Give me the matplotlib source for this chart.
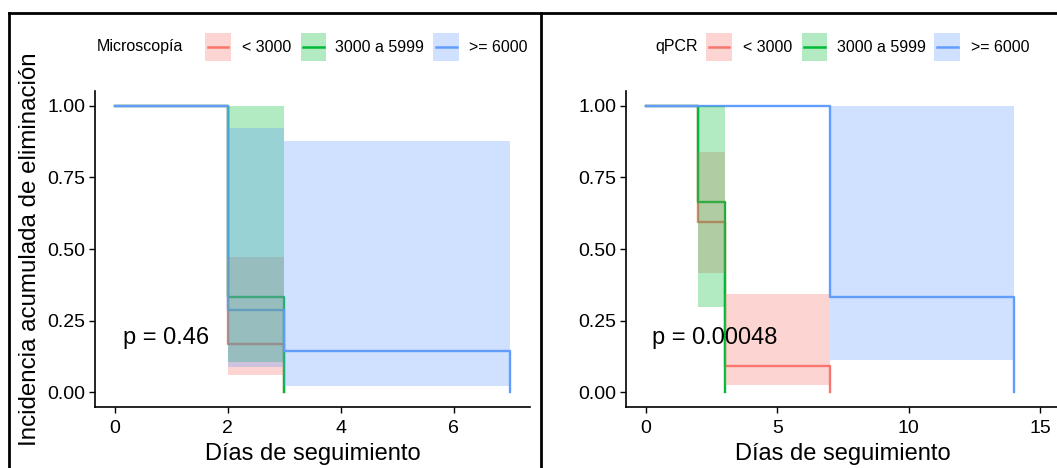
import matplotlib
matplotlib.use("Agg")
import matplotlib.pyplot as plt
from matplotlib import font_manager
from matplotlib.patches import Rectangle
from matplotlib.lines import Line2D

# datos (curvas escalonadas y bandas de confianza)
grupos = ["< 3000", "3000 a 5999", ">= 6000"]
colores = ["#F8766D", "#00BA38", "#619CFF"]

# Microscopia
mic_t_rojo = [0, 2, 3]
mic_s_rojo = [1.0, 0.168, 0.0]
mic_t_verde = [0, 2, 3]
mic_s_verde = [1.0, 0.333, 0.0]
mic_t_azul = [0, 2, 3, 7]
mic_s_azul = [1.0, 0.287, 0.145, 0.0]
mic_ci_t_rojo = [2, 3]
mic_ci_lo_rojo = [0.062]
mic_ci_hi_rojo = [0.471]
mic_ci_t_verde = [2, 3]
mic_ci_lo_verde = [0.107]
mic_ci_hi_verde = [1.0]
mic_ci_t_azul = [2, 3, 7]
mic_ci_lo_azul = [0.088, 0.022]
mic_ci_hi_azul = [0.922, 0.878]
mic_p = "p = 0.46"

# qPCR
pcr_t_rojo = [0, 2, 3, 7]
pcr_s_rojo = [1.0, 0.593, 0.092, 0.0]
pcr_t_verde = [0, 2, 3]
pcr_s_verde = [1.0, 0.665, 0.0]
pcr_t_azul = [0, 7, 14]
pcr_s_azul = [1.0, 0.333, 0.0]
pcr_ci_t_rojo = [2, 3, 7]
pcr_ci_lo_rojo = [0.417, 0.027]
pcr_ci_hi_rojo = [0.839, 0.343]
pcr_ci_t_verde = [2, 3]
pcr_ci_lo_verde = [0.298]
pcr_ci_hi_verde = [1.0]
pcr_ci_t_azul = [7, 14]
pcr_ci_lo_azul = [0.112]
pcr_ci_hi_azul = [1.0]
pcr_p = "p = 0.00048"

W, H = 1057, 468
nombres = {f.name for f in font_manager.fontManager.ttflist}
plt.rcParams['font.family'] = ['Liberation Sans', 'DejaVu Sans']
if 'Liberation Sans Narrow' in nombres:
    fam_ley, tam_ley = ['Liberation Sans Narrow', 'Liberation Sans'], 14
else:
    fam_ley, tam_ley = ['Liberation Sans', 'DejaVu Sans'], 11.5

fig = plt.figure(figsize=(W / 100, H / 100), dpi=100)
fig.patch.set_facecolor("white")

def px(x0, y0, x1, y1):  # caja en pixeles -> fraccion de figura
    return [x0 / W, 1 - y1 / H, (x1 - x0) / W, (y1 - y0) / H]

def panel(rect, xlim, xticks, curvas, bandas, ptxt, px_txt):
    ax = fig.add_axes(rect)
    for (t, s), c in zip(curvas, colores):
        ax.step(t, s, where="post", color=c, lw=1.7, zorder=2)
    for (t, lo, hi), c in zip(bandas, colores):
        ax.fill_between(t, lo + [lo[-1]], hi + [hi[-1]], step="post",
                        color=c, alpha=0.3, lw=0, zorder=3)
    ax.set_xlim(*xlim)
    ax.set_ylim(-0.05, 1.05)
    ax.set_xticks(xticks)
    ax.set_yticks([0, 0.25, 0.5, 0.75, 1.0])
    ax.set_yticklabels(["0.00", "0.25", "0.50", "0.75", "1.00"])
    for s in ["top", "right"]:
        ax.spines[s].set_visible(False)
    for s in ["left", "bottom"]:
        ax.spines[s].set_linewidth(1.2)
    ax.tick_params(labelsize=14, length=4, width=1, colors="black", pad=3)
    ax.tick_params(axis="x", pad=6)
    ax.set_xlabel("Días de seguimiento", fontsize=17, labelpad=4)
    ax.text(px_txt, 0.19, ptxt, fontsize=17, va="center", ha="left", zorder=5)
    return ax

ax1 = panel(px(95, 91.4, 530, 406.6), (-0.35, 7.35), [0, 2, 4, 6],
            [(mic_t_rojo, mic_s_rojo), (mic_t_verde, mic_s_verde), (mic_t_azul, mic_s_azul)],
            [(mic_ci_t_rojo, mic_ci_lo_rojo, mic_ci_hi_rojo),
             (mic_ci_t_verde, mic_ci_lo_verde, mic_ci_hi_verde),
             (mic_ci_t_azul, mic_ci_lo_azul, mic_ci_hi_azul)],
            mic_p, 0.14)
ax2 = panel(px(626, 91.4, 1059.8, 406.6), (-0.75, 15.75), [0, 5, 10, 15],
            [(pcr_t_rojo, pcr_s_rojo), (pcr_t_verde, pcr_s_verde), (pcr_t_azul, pcr_s_azul)],
            [(pcr_ci_t_rojo, pcr_ci_lo_rojo, pcr_ci_hi_rojo),
             (pcr_ci_t_verde, pcr_ci_lo_verde, pcr_ci_hi_verde),
             (pcr_ci_t_azul, pcr_ci_lo_azul, pcr_ci_hi_azul)],
            pcr_p, 0.25)

fig.text(30 / W, 1 - 249 / H, "Incidencia acumulada de eliminación", fontsize=17.4,
         rotation=90, ha="center", va="center")

# leyendas arriba, dibujadas a mano al estilo ggplot
def leyenda(titulo, x_tit, x_keys, x_labs):
    yc = 47
    fig.text(x_tit / W, 1 - yc / H, titulo, family=fam_ley, fontsize=tam_ley,
             ha="left", va="center")
    for xk, xl, c, g in zip(x_keys, x_labs, colores, grupos):
        fig.patches.append(Rectangle((xk / W, 1 - 60.7 / H), 25.7 / W, 27.4 / H,
                                     transform=fig.transFigure, facecolor=c,
                                     alpha=0.3, lw=0))
        fig.lines.append(Line2D([(xk + 2.5) / W, (xk + 23.2) / W], [1 - yc / H] * 2,
                                transform=fig.transFigure, color=c, lw=1.8))
        fig.text(xl / W, 1 - yc / H, g, family=fam_ley, fontsize=tam_ley,
                 ha="left", va="center")

leyenda("Microscopía", 97, [205, 300.7, 433.3], [241.7, 335, 469.3])
leyenda("qPCR", 655, [706, 801.7, 934.3], [742.7, 836.7, 970.7])

# marco negro de los paneles
for xs, ys in [([9, W], [13, 13]), ([9, 9], [13, H]), ([541, 541], [13, H])]:
    fig.lines.append(Line2D([x / W for x in xs], [1 - y / H for y in ys],
                            transform=fig.transFigure, color="black", lw=2))

fig.savefig("out.png", dpi=100)
